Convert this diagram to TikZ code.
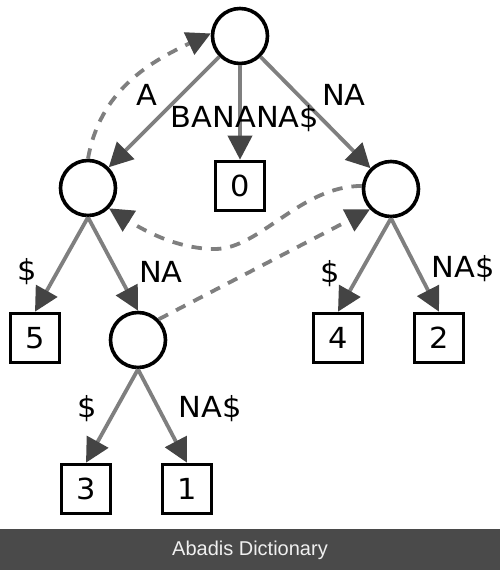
\documentclass[tikz,border=0pt]{standalone}
\usepackage{fontspec}
\setmainfont{DejaVu Sans}[FakeStretch=1.05]
\newfontfamily\footfont{Liberation Sans}
\usetikzlibrary{arrows.meta}
\definecolor{edgegray}{HTML}{7F7F7F}
\definecolor{tipgray}{HTML}{444444}
\definecolor{footgray}{HTML}{4A4A4A}
\definecolor{foottext}{HTML}{F0F0F0}
\tikzset{
  inode/.style={circle,draw=black,line width=3.6pt,minimum size=55pt,inner sep=0pt},
  leaf/.style={rectangle,draw=black,line width=3.6pt,minimum size=49pt,inner sep=0pt,
    font=\fontsize{29}{32}\selectfont},
  treeedge/.style={draw=edgegray,line width=3.8pt,
    -{Triangle[length=24pt,width=24pt,color=tipgray]}},
  suffixlink/.style={draw=edgegray,line width=3.8pt,dash pattern=on 10.5pt off 9pt,
    -{Triangle[length=24pt,width=24pt,color=tipgray,sep=0pt]}},
  elabel/.style={anchor=base,inner sep=0pt,font=\fontsize{29}{32}\selectfont}
}
\begin{document}
\begin{tikzpicture}[x=1pt,y=1pt]
\useasboundingbox (0,0) rectangle (500,-570);
% nodes
\node[inode] (root) at (240,-36) {};
\node[inode] (nl) at (88,-188) {};
\node[leaf]  (b0) at (240,-186) {0};
\node[inode] (nr) at (391,-189) {};
\node[leaf]  (b5) at (35,-338) {5};
\node[inode] (nn) at (138,-340) {};
\node[leaf]  (b4) at (338,-338) {4};
\node[leaf]  (b2) at (439,-338) {2};
\node[leaf]  (b3) at (86,-489) {3};
\node[leaf]  (b1) at (187,-489) {1};
% tree edges
\draw[treeedge] (root) -- (nl);
\draw[treeedge] (root) -- (b0);
\draw[treeedge] (root) -- (nr);
\draw[treeedge] (nl.south) -- (b5.north);
\draw[treeedge] (nl.south) -- (nn.north);
\draw[treeedge] (nr.south) -- (b4.north);
\draw[treeedge] (nr.south) -- (b2.north);
\draw[treeedge] (nn.south) -- (b3.north);
\draw[treeedge] (nn.south) -- (b1.north);
% suffix links
\draw[suffixlink] (nl.90) to[out=80,in=205] (root.175);
\draw[suffixlink] (nr.174) .. controls (300,-186) and (260,-249) .. (215,-249)
  .. controls (175,-249) and (140,-228) .. (nl.-44);
\draw[suffixlink] (nn.45) -- (nr.224);
% edge labels
\node[elabel] (lA) at (147,-105) {A};
\node[elabel] (lB) at (245,-127) {BANANA\$};
\node[elabel] (lNA1) at (344,-105) {NA};
\node[elabel] (lD1) at (27,-280) {\$};
\node[elabel] (lNA2) at (161,-282) {NA};
\node[elabel] (lD2) at (330,-282) {\$};
\node[elabel] (lNA3) at (463,-277) {NA\$};
\node[elabel] (lD3) at (87,-417) {\$};
\node[elabel] (lNA4) at (210,-417) {NA\$};
% footer
\fill[footgray] (0,-529) rectangle (500,-570);
\node[text=foottext,font=\footfont\fontsize{20}{22}\selectfont,anchor=base,inner sep=0pt]
  (foot) at (250,-555) {Abadis Dictionary};
\end{tikzpicture}
\end{document}
